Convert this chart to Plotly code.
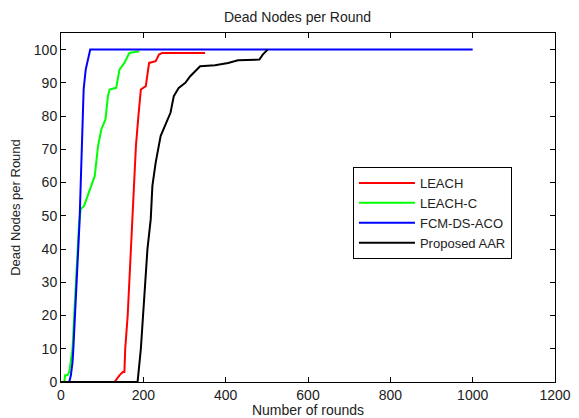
import plotly.graph_objects as go

# values
leach_x = [0, 130, 142, 150, 154, 156, 162, 166, 170, 172, 178, 182, 188, 194, 206, 214, 230, 238, 246, 350]
leach_y = [0, 0, 2, 3, 3, 10, 20, 30, 40, 48, 61, 71, 80, 88, 89, 96, 96.5, 98.5, 99, 99]

leachc_x = [0, 8, 10, 16, 20, 24, 28, 32, 36, 40, 44, 46, 48, 56, 62, 70, 82, 90, 98, 108, 114, 118, 134, 142, 154, 166, 190]
leachc_y = [0, 0, 2, 2, 3, 6, 10, 20, 30, 40, 48, 50, 52, 53, 55, 58, 62, 71, 76, 79, 86, 88, 88.5, 94, 96, 99, 99.5]

fcm_x = [0, 20, 24, 28, 30, 34, 38, 42, 45, 48, 51, 55, 60, 66, 71, 1000]
fcm_y = [0, 0, 2, 6, 10, 20, 30, 40, 48, 60, 75, 88, 94, 97, 100, 100]

aar_x = [0, 186, 194, 199, 204, 210, 218, 222, 230, 242, 254, 266, 274, 286, 302, 314, 326, 338, 374, 406, 430, 482, 490, 502]
aar_y = [0, 0, 10, 20, 30, 40, 49, 59, 66, 74, 77.5, 81, 86, 88.5, 90, 92, 93.5, 95, 95.3, 96, 96.8, 97, 98.5, 100]

x_ticks = [0, 200, 400, 600, 800, 1000, 1200]
y_ticks = [0, 10, 20, 30, 40, 50, 60, 70, 80, 90, 100]

series = [
    ("LEACH", leach_x, leach_y, "#ff0000"),
    ("LEACH-C", leachc_x, leachc_y, "#00ff00"),
    ("FCM-DS-ACO", fcm_x, fcm_y, "#0000ff"),
    ("Proposed AAR", aar_x, aar_y, "#000000"),
]

fig = go.Figure()
for name, xs, ys, col in series:
    fig.add_trace(go.Scatter(x=xs, y=ys, mode="lines", name=name,
                             line=dict(color=col, width=2)))

axis_style = dict(showgrid=False, zeroline=False, showline=True, linecolor="black",
                  linewidth=1, mirror="ticks", ticks="inside", ticklen=5,
                  tickcolor="black", tickfont=dict(size=14, color="#222"),
                  ticklabeloverflow="allow", automargin=False)

fig.update_xaxes(range=[0, 1200], tickvals=x_ticks,
                 title=dict(text="Number of rounds", standoff=10,
                            font=dict(size=14, color="#222")), **axis_style)
fig.update_yaxes(range=[0, 105], tickvals=y_ticks,
                 title=dict(text="Dead Nodes per Round", standoff=14,
                            font=dict(size=13, color="#222")), **axis_style)

# page body adds an 8px offset, margins are shifted to compensate
# (right margin a bit wider so the "1200" label is not clipped)
fig.update_layout(
    width=579, height=410,
    margin=dict(l=53, r=32, t=25, b=36),
    paper_bgcolor="white", plot_bgcolor="white",
    font=dict(family="Liberation Sans, Arial, sans-serif", color="#222"),
    title=dict(text="Dead Nodes per Round", x=0.5, xanchor="center", y=0.99,
               font=dict(size=14, color="#222")),
    legend=dict(x=0.591, y=0.616, xanchor="left", yanchor="top",
                bordercolor="black", borderwidth=1, bgcolor="white",
                font=dict(size=13, color="#222"), itemwidth=56,
                tracegroupgap=0),
)

fig.write_html("out.html")
